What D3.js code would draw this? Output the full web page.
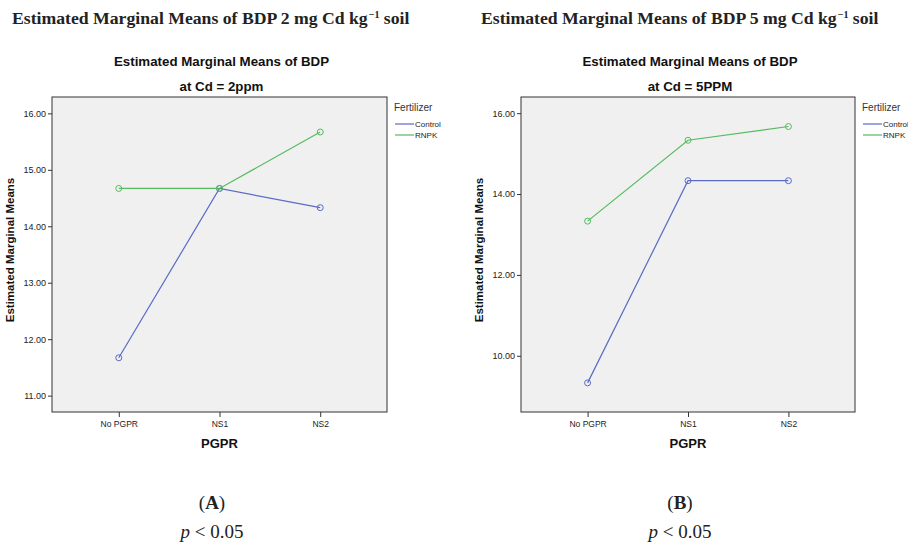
<!DOCTYPE html>
<html><head><meta charset="utf-8">
<script src="https://cdn.jsdelivr.net/npm/d3@7"></script>
<style>body{margin:0;background:#fff}svg{display:block}</style>
</head><body>
<svg id="c" width="908" height="542"></svg>
<script>
const categories = ["No PGPR", "NS1", "NS2"];
const seriesNames = ["Control", "RNPK"];
const controlA = [11.67, 14.67, 14.33];
const rnpkA = [14.67, 14.67, 15.67];
const controlB = [9.33, 14.33, 14.33];
const rnpkB = [13.33, 15.33, 15.67];
const ticksA = [11, 12, 13, 14, 15, 16];
const ticksB = [10, 12, 14, 16];
const headingA = "Estimated Marginal Means of BDP 2 mg Cd kg";
const headingB = "Estimated Marginal Means of BDP 5 mg Cd kg";
const subA = "at Cd = 2ppm";
const subB = "at Cd = 5PPM";
const colors = {Control: "#5a6bc6", RNPK: "#55bb5f"};

const svg = d3.select("#c");

function panel(o) {
  const g = svg.append("g");
  const x = d3.scalePoint().domain(categories).range([o.x0, o.x1]).padding(0.663);
  const y = d3.scaleLinear().domain(o.ydom).range([412, 97]);
  // heading
  const h = g.append("text").attr("x", o.hx).attr("y", 24)
    .attr("font-family", "'Liberation Serif', serif").attr("font-weight", "bold")
    .attr("font-size", 17.7).attr("fill", "#222");
  h.append("tspan").text(o.heading);
  h.append("tspan").attr("font-size", 10).attr("dy", -6).attr("dx", 1).text("−1");
  h.append("tspan").attr("dy", 6).text(" soil");
  // titles
  const cx = (o.x0 + o.x1) / 2 + 2;
  g.append("text").attr("x", cx).attr("y", 66).attr("text-anchor", "middle")
    .attr("font-family", "Liberation Sans, Arial, sans-serif").attr("font-weight", "bold")
    .attr("font-size", 13.3).attr("fill", "#111").text("Estimated Marginal Means of BDP");
  g.append("text").attr("x", cx).attr("y", 91).attr("text-anchor", "middle")
    .attr("font-family", "Liberation Sans, Arial, sans-serif").attr("font-weight", "bold")
    .attr("font-size", 13.3).attr("fill", "#111").text(o.sub);
  // plot bg
  g.append("rect").attr("x", o.x0).attr("y", 97).attr("width", o.x1 - o.x0).attr("height", 315)
    .attr("fill", "#f0f0f0").attr("stroke", "#333").attr("stroke-width", 1);
  // axes
  const ya = g.append("g").attr("transform", `translate(${o.x0},0)`)
    .call(d3.axisLeft(y).tickValues(o.ticks).tickFormat(d3.format(".2f")).tickSize(4).tickPadding(2));
  ya.select(".domain").remove();
  ya.selectAll("text").attr("font-family", "Liberation Sans, Arial, sans-serif").attr("font-size", 9).attr("fill", "#222");
  ya.selectAll("line").attr("stroke", "#333");
  const xa = g.append("g").attr("transform", `translate(0,412)`)
    .call(d3.axisBottom(x).tickSize(5).tickPadding(4));
  xa.select(".domain").remove();
  xa.selectAll("text").attr("font-family", "Liberation Sans, Arial, sans-serif").attr("font-size", 8.5).attr("fill", "#222");
  xa.selectAll("line").attr("stroke", "#333");
  g.append("text").attr("x", x("NS1")).attr("y", 448).attr("text-anchor", "middle")
    .attr("font-family", "Liberation Sans, Arial, sans-serif").attr("font-weight", "bold")
    .attr("font-size", 13).attr("fill", "#111").text("PGPR");
  g.append("text").attr("transform", `translate(${o.x0 - 38},${250}) rotate(-90)`).attr("text-anchor", "middle")
    .attr("font-family", "Liberation Sans, Arial, sans-serif").attr("font-weight", "bold")
    .attr("font-size", 11.5).attr("fill", "#111").text("Estimated Marginal Means");
  // lines
  const line = d3.line().x((d, i) => x(categories[i])).y(d => y(d));
  o.series.forEach((vals, si) => {
    const c = colors[seriesNames[si]];
    g.append("path").datum(vals).attr("d", line).attr("fill", "none").attr("stroke", c).attr("stroke-width", 1.2);
    g.selectAll(null).data(vals).enter().append("circle")
      .attr("cx", (d, i) => x(categories[i])).attr("cy", d => y(d)).attr("r", 3)
      .attr("fill", "none").attr("stroke", c).attr("stroke-width", 1);
  });
  // legend
  const lx = o.x1 + 5;
  g.append("text").attr("x", lx + 2).attr("y", 111).attr("font-family", "Liberation Sans, Arial, sans-serif")
    .attr("font-size", 10).attr("fill", "#333").text("Fertilizer");
  seriesNames.forEach((s, i) => {
    const yy = 124 + i * 11;
    g.append("line").attr("x1", lx + 3).attr("x2", lx + 22).attr("y1", yy).attr("y2", yy)
      .attr("stroke", colors[s]).attr("stroke-width", 1.2);
    g.append("text").attr("x", lx + 23).attr("y", yy + 3).attr("font-family", "Liberation Sans, Arial, sans-serif")
      .attr("font-size", 8).attr("fill", "#222").text(s);
  });
  // caption
  g.append("text").attr("x", o.capx).attr("y", 509).attr("text-anchor", "middle")
    .attr("font-family", "'Liberation Serif', serif").attr("font-size", 19).attr("fill", "#222")
    .html(`(<tspan font-weight="bold">${o.letter}</tspan>)`);
  const p = g.append("text").attr("x", o.capx).attr("y", 538).attr("text-anchor", "middle")
    .attr("font-family", "'Liberation Serif', serif").attr("font-size", 19).attr("fill", "#222");
  p.append("tspan").attr("font-style", "italic").text("p");
  p.append("tspan").text(" < 0.05");
}

panel({x0: 52, x1: 387, ydom: [10.71, 16.29], ticks: ticksA, series: [controlA, rnpkA],
  heading: headingA, sub: subA, hx: 12, capx: 212, letter: "A"});
panel({x0: 521, x1: 855, ydom: [8.61, 16.40], ticks: ticksB, series: [controlB, rnpkB],
  heading: headingB, sub: subB, hx: 481, capx: 680, letter: "B"});
</script>
</body></html>
